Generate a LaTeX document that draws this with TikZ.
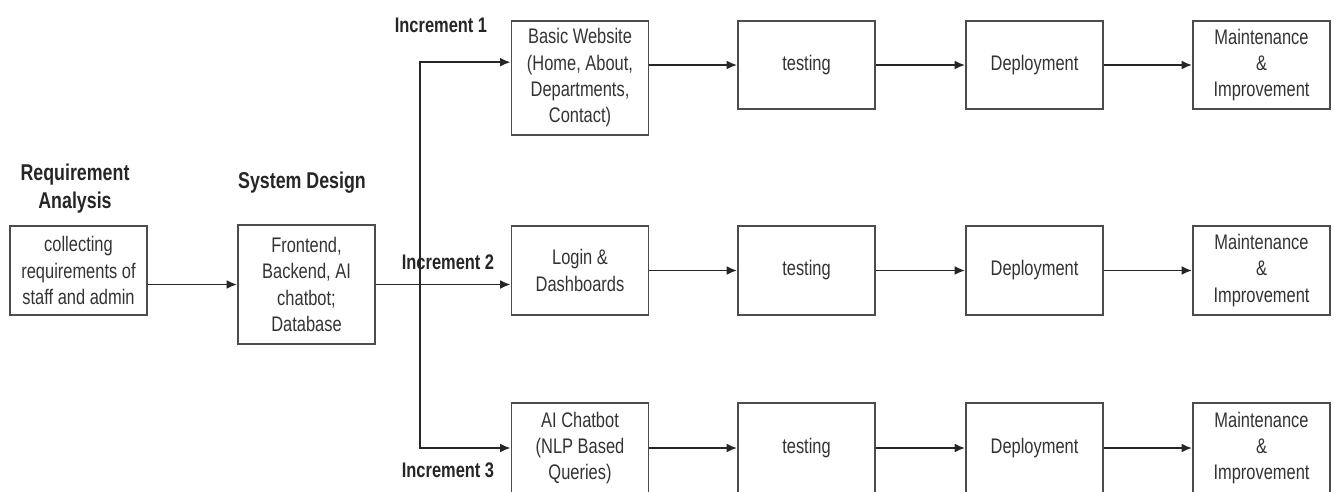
\documentclass[tikz,border=0pt]{standalone}
\usepackage{fontspec}
\setmainfont{Liberation Sans}[FakeStretch=0.78]
\usetikzlibrary{arrows.meta}

\begin{document}
\begin{tikzpicture}[x=0.02cm, y=-0.02cm,
    phase/.style={draw=black!70, line width=0.9pt, minimum width=2.74cm,
        align=center, inner sep=1pt, text=black!80,
        font=\fontsize{12pt}{15pt}\selectfont},
    title/.style={align=center, text=black!85,
        font=\bfseries\fontsize{13pt}{16pt}\selectfont},
    inclabel/.style={text=black!85, font=\bfseries\fontsize{12pt}{14pt}\selectfont},
    flow/.style={draw=black!85, line width=1.1pt, -{Latex[length=6pt,width=5pt]}}]

    \useasboundingbox (0,0) rectangle (1334,491);

    % analysis and design
    \node[title] (reqtitle) at (75,189) {Requirement\\Analysis};
    \node[phase, minimum height=1.78cm] (req) at (78.5,270.5) {collecting\\requirements of\\staff and admin};
    \node[title] (systitle) at (302,183) {System Design};
    \node[phase, minimum height=2.38cm] (sys) at (306.5,284.5) {Frontend,\\Backend, AI\\chatbot;\\Database};

    % increments
    \node[phase, minimum height=2.28cm] (web) at (580,78) {Basic Website\\(Home, About,\\Departments,\\Contact)};
    \node[phase, minimum height=1.78cm] (login) at (580,270.5) {Login \&\\Dashboards};
    \node[phase, minimum height=1.8cm] (chat) at (580,448) {AI Chatbot\\(NLP Based\\Queries)};

    \node[inclabel] (inc1) at (441,25) {Increment 1};
    \node[inclabel] (inc2) at (448,262) {Increment 2};
    \node[inclabel] (inc3) at (448,470) {Increment 3};

    % testing, deployment, maintenance per increment
    \foreach \r/\y/\h in {1/65/1.76cm, 2/270.5/1.78cm, 3/448/1.8cm} {
        \node[phase, minimum height=\h] (test\r) at (806.5,\y) {testing};
        \node[phase, minimum height=\h] (dep\r) at (1034.5,\y) {Deployment};
        \node[phase, minimum height=\h] (maint\r) at (1261.5,\y) {Maintenance\\\&\\Improvement};
    }

    % connectors
    \draw[flow] (req.east |- sys.west) -- (sys.west);
    \coordinate (fork) at (420,284.5);
    \draw[flow] (sys.east) -- (sys.east -| login.west);
    \draw[flow] (fork) |- ([yshift=9pt]web.west);
    \draw[flow] (fork) |- (chat.west);
    \draw[flow] (web.east |- test1.west) -- (test1.west);
    \draw[flow] (login) -- (test2);
    \draw[flow] (chat) -- (test3);
    \foreach \r in {1,2,3} {
        \draw[flow] (test\r) -- (dep\r);
        \draw[flow] (dep\r) -- (maint\r);
    }
\end{tikzpicture}
\end{document}
